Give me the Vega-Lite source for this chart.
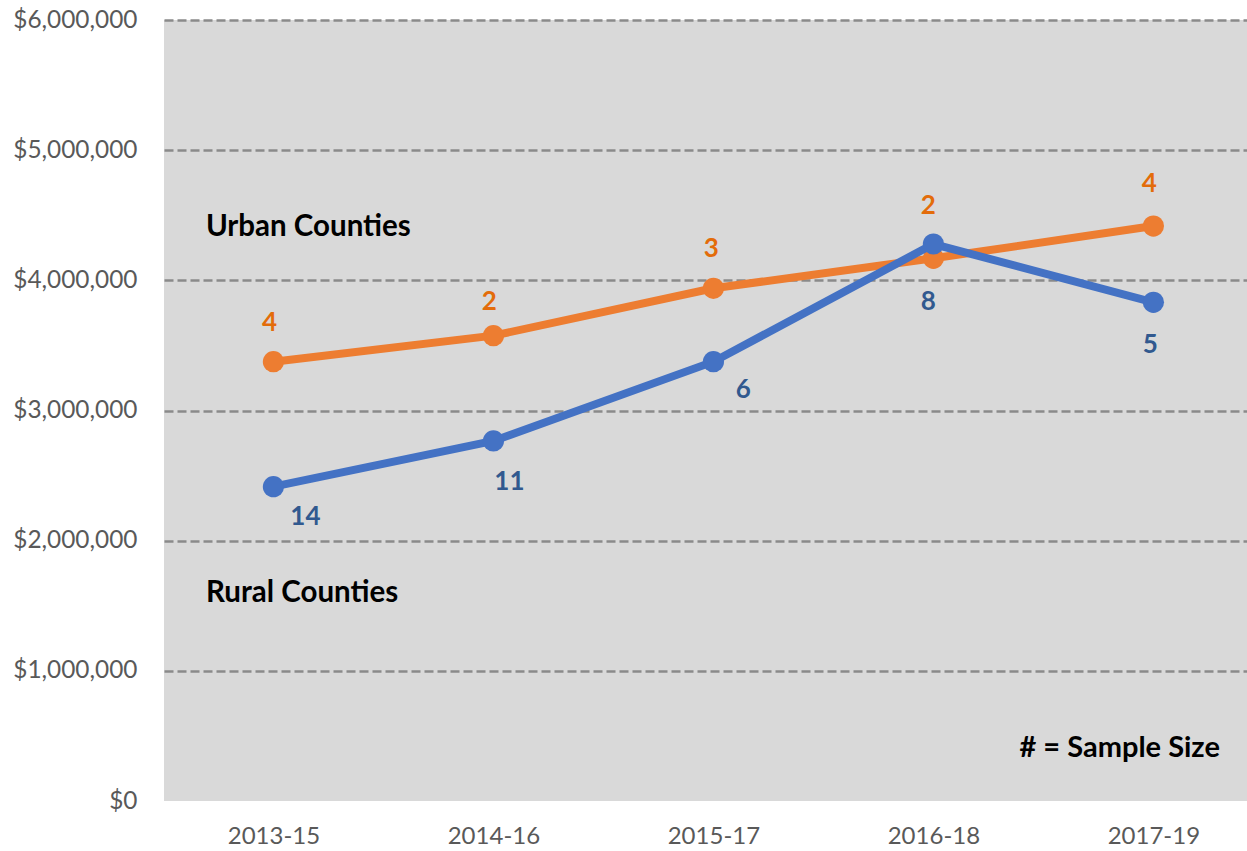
{
  "$schema": "https://vega.github.io/schema/vega-lite/v6.json",
  "width": 1083,
  "height": 781,
  "autosize": "none",
  "padding": {"left": 164, "top": 20, "right": 0, "bottom": 50},
  "background": "white",
  "config": {
    "view": {"fill": "#D9D9D9", "stroke": null},
    "font": "Lato"
  },
  "datasets": {
    "series": [
      {"year": "2013-15", "group": "Urban", "value": 3375000, "n": 4},
      {"year": "2014-16", "group": "Urban", "value": 3575000, "n": 2},
      {"year": "2015-17", "group": "Urban", "value": 3939000, "n": 3},
      {"year": "2016-18", "group": "Urban", "value": 4169000, "n": 2},
      {"year": "2017-19", "group": "Urban", "value": 4417000, "n": 4},
      {"year": "2013-15", "group": "Rural", "value": 2415000, "n": 14},
      {"year": "2014-16", "group": "Rural", "value": 2766000, "n": 11},
      {"year": "2015-17", "group": "Rural", "value": 3375000, "n": 6},
      {"year": "2016-18", "group": "Rural", "value": 4279000, "n": 8},
      {"year": "2017-19", "group": "Rural", "value": 3831000, "n": 5}
    ],
    "notes": [
      {"year": "2013-15", "value": 4410000, "label": "Urban Counties", "kind": "left"},
      {"year": "2013-15", "value": 1598000, "label": "Rural Counties", "kind": "left"},
      {"year": "2017-19", "value": 407000, "label": "# = Sample Size", "kind": "right"}
    ]
  },
  "data": {"name": "series"},
  "encoding": {
    "x": {
      "field": "year", "type": "ordinal",
      "scale": {"type": "point", "padding": 0.4614, "align": 0.539},
      "axis": {"title": null, "labelAngle": 0, "ticks": false, "domain": false, "grid": false,
               "labelFont": "Lato", "labelFontSize": 24, "labelColor": "#595959", "labelPadding": 23}
    },
    "y": {
      "field": "value", "type": "quantitative",
      "scale": {"domain": [0, 6000000], "nice": false},
      "axis": {"title": null, "values": [0, 1000000, 2000000, 3000000, 4000000, 5000000, 6000000],
               "format": "$,.0f", "ticks": false, "domain": false,
               "labelFont": "Lato", "labelFontSize": 24.4, "labelColor": "#595959", "labelPadding": 27,
               "grid": true, "gridColor": "#8A8A8A", "gridWidth": 2.5, "gridDash": [9, 4],
               "gridOpacity": {"condition": {"test": "datum.value === 0", "value": 0}, "value": 1}}
    }
  },
  "layer": [
    {"transform": [{"filter": "datum.group === 'Urban'"}],
     "mark": {"type": "line", "color": "#ED7D31", "strokeWidth": 8}},
    {"transform": [{"filter": "datum.group === 'Urban'"}],
     "mark": {"type": "circle", "color": "#ED7D31", "size": 450, "opacity": 1}},
    {"transform": [{"filter": "datum.group === 'Rural'"}],
     "mark": {"type": "line", "color": "#4472C4", "strokeWidth": 8}},
    {"transform": [{"filter": "datum.group === 'Rural'"}],
     "mark": {"type": "circle", "color": "#4472C4", "size": 450, "opacity": 1}},

    {"transform": [{"filter": "datum.group === 'Urban' && datum.year === '2013-15'"}],
     "mark": {"type": "text", "font": "Lato", "fontWeight": "bold", "fontSize": 26, "color": "#E36C0A", "baseline": "middle", "dx": -4, "dy": -39},
     "encoding": {"text": {"field": "n"}}},
    {"transform": [{"filter": "datum.group === 'Urban' && datum.year === '2014-16'"}],
     "mark": {"type": "text", "font": "Lato", "fontWeight": "bold", "fontSize": 26, "color": "#E36C0A", "baseline": "middle", "dx": -4, "dy": -34},
     "encoding": {"text": {"field": "n"}}},
    {"transform": [{"filter": "datum.group === 'Urban' && datum.year === '2015-17'"}],
     "mark": {"type": "text", "font": "Lato", "fontWeight": "bold", "fontSize": 26, "color": "#E36C0A", "baseline": "middle", "dx": -2, "dy": -39},
     "encoding": {"text": {"field": "n"}}},
    {"transform": [{"filter": "datum.group === 'Urban' && datum.year === '2016-18'"}],
     "mark": {"type": "text", "font": "Lato", "fontWeight": "bold", "fontSize": 26, "color": "#E36C0A", "baseline": "middle", "dx": -5, "dy": -52},
     "encoding": {"text": {"field": "n"}}},
    {"transform": [{"filter": "datum.group === 'Urban' && datum.year === '2017-19'"}],
     "mark": {"type": "text", "font": "Lato", "fontWeight": "bold", "fontSize": 26, "color": "#E36C0A", "baseline": "middle", "dx": -4, "dy": -42},
     "encoding": {"text": {"field": "n"}}},

    {"transform": [{"filter": "datum.group === 'Rural' && datum.year === '2013-15'"}],
     "mark": {"type": "text", "font": "Lato", "fontWeight": "bold", "fontSize": 26, "color": "#31598F", "baseline": "middle", "dx": 32, "dy": 30},
     "encoding": {"text": {"field": "n"}}},
    {"transform": [{"filter": "datum.group === 'Rural' && datum.year === '2014-16'"}],
     "mark": {"type": "text", "font": "Lato", "fontWeight": "bold", "fontSize": 26, "color": "#31598F", "baseline": "middle", "dx": 16, "dy": 41},
     "encoding": {"text": {"field": "n"}}},
    {"transform": [{"filter": "datum.group === 'Rural' && datum.year === '2015-17'"}],
     "mark": {"type": "text", "font": "Lato", "fontWeight": "bold", "fontSize": 26, "color": "#31598F", "baseline": "middle", "dx": 30, "dy": 28},
     "encoding": {"text": {"field": "n"}}},
    {"transform": [{"filter": "datum.group === 'Rural' && datum.year === '2016-18'"}],
     "mark": {"type": "text", "font": "Lato", "fontWeight": "bold", "fontSize": 26, "color": "#31598F", "baseline": "middle", "dx": -5, "dy": 58},
     "encoding": {"text": {"field": "n"}}},
    {"transform": [{"filter": "datum.group === 'Rural' && datum.year === '2017-19'"}],
     "mark": {"type": "text", "font": "Lato", "fontWeight": "bold", "fontSize": 26, "color": "#31598F", "baseline": "middle", "dx": -3, "dy": 43},
     "encoding": {"text": {"field": "n"}}},

    {"data": {"name": "notes"},
     "transform": [{"filter": "datum.kind === 'left'"}],
     "mark": {"type": "text", "font": "Lato", "fontWeight": "bold", "fontSize": 29.5, "color": "#000000", "align": "left", "baseline": "middle", "dx": -67.5},
     "encoding": {"text": {"field": "label"}}},
    {"data": {"name": "notes"},
     "transform": [{"filter": "datum.kind === 'right'"}],
     "mark": {"type": "text", "font": "Lato", "fontWeight": "bold", "fontSize": 29, "color": "#000000", "align": "right", "baseline": "middle", "dx": 66.5},
     "encoding": {"text": {"field": "label"}}}
  ]
}
